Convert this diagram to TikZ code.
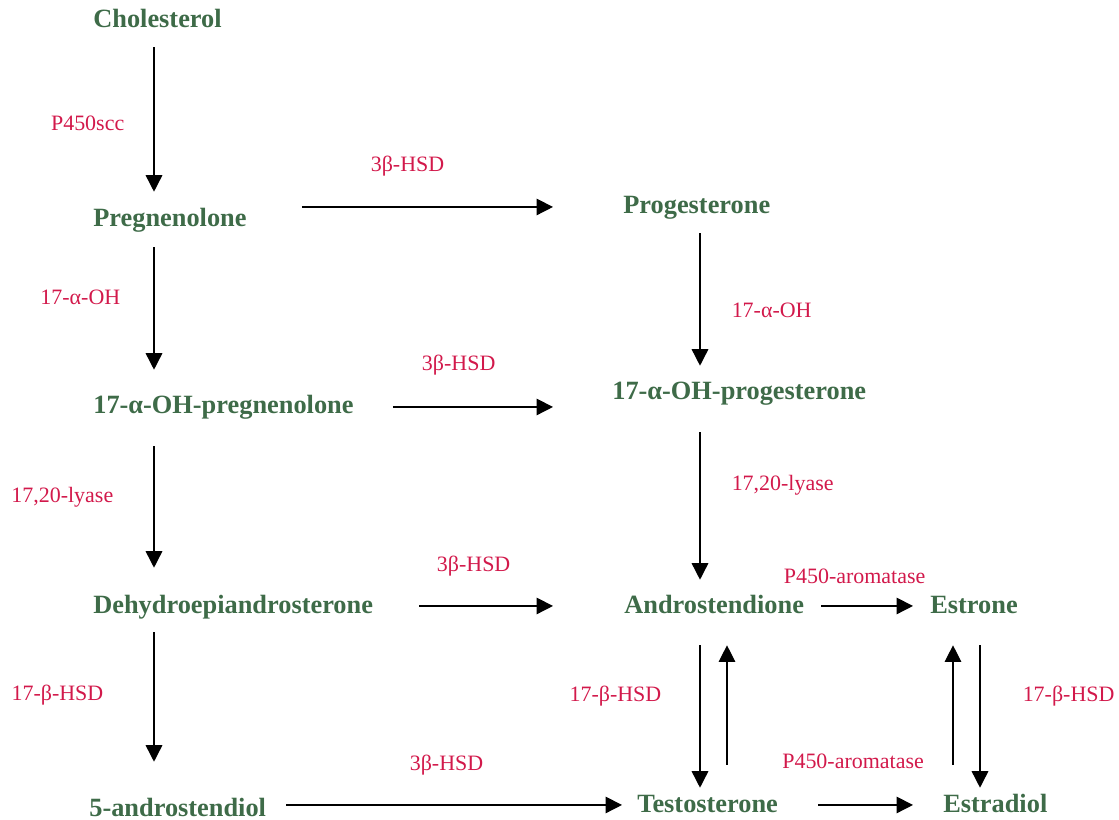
\documentclass[tikz,border=0pt]{standalone}
\usepackage{fontspec}
\setmainfont{Liberation Serif}
\usetikzlibrary{arrows.meta}
\definecolor{stergreen}{RGB}{62,107,72}
\definecolor{enzred}{RGB}{210,25,75}
\tikzset{
  hormone/.style={anchor=base west, inner sep=0pt, text height=11pt, text depth=3pt,
    text=stergreen, font=\fontsize{15}{18}\selectfont\bfseries},
  enzyme/.style={inner sep=0pt, text height=9pt, text depth=3pt,
    text=enzred, font=\fontsize{12.5}{15}\selectfont},
  conv/.style={-{Triangle[width=0.33cm,length=0.33cm]}, line width=0.85pt},
  back/.style={conv, line width=0.6pt},
  gaps/.style 2 args={shorten <=#1, shorten >=#2}
}
\begin{document}
\begin{tikzpicture}[x=0.02cm, y=-0.02cm]
\useasboundingbox (0,0) rectangle (1119,820);
% steroids
\node[hormone] (chol) at (93,28) {Cholesterol};
\node[hormone] (preg) at (93,227) {Pregnenolone};
\node[hormone] (ohpreg) at (93,414) {17-α-OH-pregnenolone};
\node[hormone] (dhea) at (93,613) {Dehydroepiandrosterone};
\node[hormone] (diol) at (89,816) {5-androstendiol};
\node[hormone] (prog) at (623,214) {Progesterone};
\node[hormone] (ohprog) at (612,400) {17-α-OH-progesterone};
\node[hormone] (andro) at (624,613) {Androstendione};
\node[hormone] (testo) at (637,812) {Testosterone};
\node[hormone] (estrone) at (930,613) {Estrone};
\node[hormone] (estradiol) at (943,812) {Estradiol};
% arrow columns
\coordinate (colA) at (154,0);
\coordinate (colB) at (700,0);
\coordinate (colC) at (727,0);
\coordinate (colD) at (953,0);
\coordinate (colE) at (980,0);
% left column
\draw[conv, gaps={0.274cm}{0.312cm}] (chol.south -| colA) -- node[enzyme, pos=0.53, left=0.58cm] {P450scc} (preg.north -| colA);
\draw[conv, gaps={0.294cm}{0.492cm}] (preg.south -| colA) -- node[enzyme, pos=0.41, left=0.66cm] {17-α-OH} (ohpreg.north -| colA);
\draw[conv, gaps={0.534cm}{0.512cm}] (ohpreg.south -| colA) -- node[enzyme, pos=0.446, left=0.8cm] {17,20-lyase} (dhea.north -| colA);
\draw[conv, gaps={0.274cm}{0.692cm}] (dhea.south -| colA) -- node[enzyme, pos=0.43, left=1cm] {17-β-HSD} (diol.north -| colA);
% across
\draw[conv, gaps={1.1cm}{1.4cm}] (preg.east |- prog.west) -- node[enzyme, pos=0.427, above=0.59cm] {3β-HSD} (prog.west);
\draw[conv, gaps={0.78cm}{1.18cm}] (ohpreg.east) -- node[enzyme, pos=0.406, above=0.61cm] {3β-HSD} (ohpreg.east -| ohprog.west);
\draw[conv, gaps={0.92cm}{1.42cm}] (dhea.east) -- node[enzyme, pos=0.4, above=0.57cm] {3β-HSD} (andro.west);
\draw[conv, gaps={0.4cm}{0.3cm}] (diol.east |- testo.west) -- node[enzyme, pos=0.486, above=0.57cm] {3β-HSD} (testo.west);
% right part
\draw[conv, gaps={0.274cm}{0.292cm}] (prog.south -| colB) -- node[enzyme, pos=0.575, right=0.62cm] {17-α-OH} (ohprog.north -| colB);
\draw[conv, gaps={0.534cm}{0.272cm}] (ohprog.south -| colB) -- node[enzyme, pos=0.423, right=0.62cm] {17,20-lyase} (andro.north -| colB);
\draw[conv, gaps={0.534cm}{0.092cm}] (andro.south -| colB) -- node[enzyme, pos=0.446, left=0.76cm] {17-β-HSD} (testo.north -| colB);
\draw[back, gaps={0.552cm}{0.534cm}] (testo.north -| colC) -- (andro.south -| colC);
\draw[conv, gaps={0.34cm}{0.34cm}] (andro.east) -- node[enzyme, pos=0.4, above=0.33cm] {P450-aromatase} (estrone.west);
\draw[conv, gaps={0.8cm}{0.6cm}] (testo.east) -- node[enzyme, pos=0.454, above=0.61cm] {P450-aromatase} (estradiol.west);
\draw[back, gaps={0.552cm}{0.534cm}] (estradiol.north -| colD) -- (estrone.south -| colD);
\draw[conv, gaps={0.534cm}{0.092cm}] (estrone.south -| colE) -- node[enzyme, pos=0.446, right=0.84cm] {17-β-HSD} (estradiol.north -| colE);
\end{tikzpicture}
\end{document}
